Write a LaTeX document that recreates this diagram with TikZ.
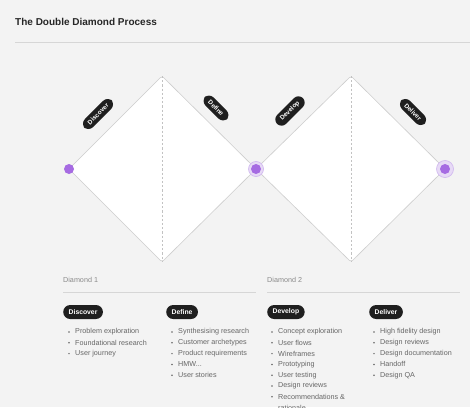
\documentclass[tikz,border=0pt]{standalone}
\usepackage{fontspec}
\setmainfont{Liberation Sans}
\newcommand\hmwtext{HMW...}
\definecolor{bg}{HTML}{F3F3F3}
\definecolor{edgec}{HTML}{CDCDCD}
\definecolor{dashc}{HTML}{C2C2C2}
\definecolor{purp}{HTML}{A66BE2}
\definecolor{halo}{HTML}{E7DAF6}
\definecolor{haloring}{HTML}{D2BAF0}
\definecolor{pillc}{HTML}{1F1F1F}
\definecolor{itemc}{HTML}{666666}
\definecolor{headc}{HTML}{8A8A8A}
\definecolor{rulec}{HTML}{D6D6D6}
\begin{document}
\begin{tikzpicture}[x=1pt,y=-1pt,
  dia/.style={fill=white,draw=edgec,line width=0.6pt,rounded corners=2.5pt},
  midline/.style={draw=dashc,line width=0.6pt,dash pattern=on 2.2pt off 2pt},
  tagpill/.style={fill=pillc,text=white,rounded corners=6.5pt,font=\fontsize{6.3}{7}\selectfont\bfseries,inner xsep=6pt,inner ysep=3.4pt},
  pill/.style={fill=pillc,text=white,rounded corners=7pt,font=\fontsize{6.8}{8}\selectfont\bfseries,inner xsep=5.5pt,inner ysep=3.2pt,anchor=west,minimum height=14pt},
  head/.style={text=headc,font=\fontsize{7.2}{8}\selectfont,anchor=west,inner sep=0pt},
  item/.style={text=itemc,font=\fontsize{7.2}{8}\selectfont,anchor=west,inner sep=0pt},
  bul/.style={fill=itemc,inner sep=0pt,minimum size=1.7pt,circle},
  dot/.style={fill=purp,circle,inner sep=0pt,minimum size=10pt},
  halodot/.style={fill=halo,draw=haloring,line width=0.7pt,circle,inner sep=0pt,minimum size=#1}
]
\useasboundingbox (0,0) rectangle (470,407);
\fill[bg] (0,0) rectangle (470,407);
\begin{scope}
\clip (0,0) rectangle (470,407);
% title
\node[anchor=west,inner sep=0pt,font=\fontsize{10}{12}\selectfont\bfseries,text=black!85] (title) at (15,22) {The Double Diamond Process};
\coordinate (tl) at (15,42); \coordinate (tr) at (470,42);
\draw[rulec,line width=0.8pt] (tl) -- (tr);

% diamond coordinates
\coordinate (d1l) at (69,169); \coordinate (d1t) at (162,76);
\coordinate (d1r) at (256,169); \coordinate (d1b) at (162,262);
\coordinate (d2l) at (256,169); \coordinate (d2t) at (351,76);
\coordinate (d2r) at (445,169); \coordinate (d2b) at (351,262);

\draw[dia] (d1l) -- (d1t) -- (d1r) -- (d1b) -- cycle;
\draw[dia] (d2l) -- (d2t) -- (d2r) -- (d2b) -- cycle;
\draw[midline] (d1t) -- (d1b);
\draw[midline] (d2t) -- (d2b);

% dots
\node[dot] (p1) at (d1l) {};
\node[halodot=15pt] (h2) at (d1r) {};
\node[dot] (p2) at (d1r) {};
\node[halodot=17pt] (h3) at (d2r) {};
\node[dot] (p3) at (d2r) {};

% edge tags
\node[tagpill,rotate=45] (tdisc) at (98,114) {Discover};
\node[tagpill,rotate=-45] (tdef) at (216,108) {Define};
\node[tagpill,rotate=45] (tdev) at (290,111) {Develop};
\node[tagpill,rotate=-45] (tdel) at (413,112) {Deliver};

% lower section headings
\node[head] (h1) at (63,280) {Diamond 1};
\node[head] (h2t) at (267,280) {Diamond 2};
\coordinate (r1a) at (63,292); \coordinate (r1b) at (256,292);
\coordinate (r2a) at (267,292); \coordinate (r2b) at (460,292);
\draw[rulec,line width=1pt] (r1a) -- (r1b);
\draw[rulec,line width=1pt] (r2a) -- (r2b);

% pills
\node[pill] (pdisc) at (63,312) {Discover};
\node[pill] (pdef) at (166,312) {Define};
\node[pill] (pdev) at (267,312) {Develop};
\node[pill] (pdel) at (369,312) {Deliver};

% lists
\foreach \t [count=\i] in {Problem exploration,Foundational research,User journey}{
  \node[bul] at (69,{332+(\i-1)*10.8}) {};
  \node[item] at (75,{332+(\i-1)*10.8}) {\t};
}
\foreach \t [count=\i] in {Synthesising research,Customer archetypes,Product requirements,\hmwtext,User stories}{
  \node[bul] at (172,{332+(\i-1)*10.8}) {};
  \node[item] at (178,{332+(\i-1)*10.8}) {\t};
}
\foreach \t [count=\i] in {Concept exploration,User flows,Wireframes,Prototyping,User testing,Design reviews,Recommendations \&}{
  \node[bul] at (272,{332+(\i-1)*10.8}) {};
  \node[item] at (278,{332+(\i-1)*10.8}) {\t};
}
\node[item] (rat) at (278,{332+7*10.8}) {rationale};
\foreach \t [count=\i] in {High fidelity design,Design reviews,Design documentation,Handoff,Design QA}{
  \node[bul] at (374,{332+(\i-1)*10.8}) {};
  \node[item] at (380,{332+(\i-1)*10.8}) {\t};
}
\end{scope}
\end{tikzpicture}
\end{document}
